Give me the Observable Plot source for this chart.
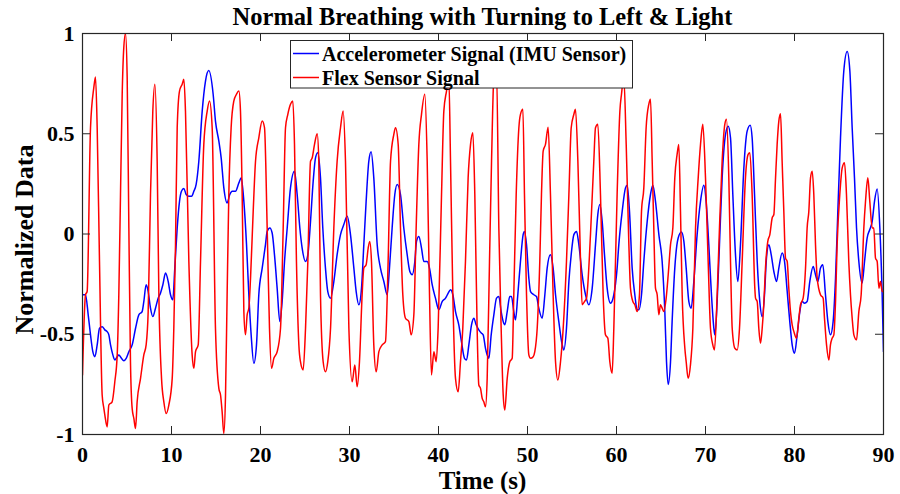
<!DOCTYPE html>
<html>
<head>
<meta charset="utf-8">
<script src="https://cdn.jsdelivr.net/npm/d3@7"></script>
<script src="https://cdn.jsdelivr.net/npm/@observablehq/plot@0.6"></script>
<style>
  html, body { margin: 0; padding: 0; background: white; }
  #chart { width: 900px; height: 494px; }
</style>
</head>
<body>
<div id="chart"></div>
<script>
// ---- Data ----
const accelTime = [
  0,0.34,0.64,0.90,1.16,1.39,1.65,1.91,2.21,2.51,2.77,2.96,3.15,3.41,3.63,3.90,4.08,4.38,4.64,4.91,5.21,5.58,5.96,6.33,6.70,6.89,7.15,7.38,7.64,7.90,8.20,8.50,8.76,9.03,9.33,9.63,9.89,10.15,10.37,10.64,10.90,11.12,11.39,11.65,11.95,12.25,12.51,12.77,13.07,13.45,13.82,14.19,
  14.68,14.94,15.32,15.58,15.88,16.25,16.55,16.82,17.19,17.57,17.83,18.13,18.43,18.69,18.95,19.25,19.55,19.81,20.19,20.56,20.75,21.05,21.31,21.57,21.87,22.17,22.43,22.70,23.00,23.37,23.82,24.12,24.42,24.68,25.06,25.32,25.62,25.92,26.18,26.44,26.74,27.00,27.30,27.56,27.87,28.24,28.61,28.99,29.36,29.74,
  30.11,30.49,30.75,31.05,31.35,31.61,31.87,32.17,32.43,32.73,33.11,33.48,33.86,34.23,34.49,34.79,35.09,35.36,35.73,36.10,36.48,36.78,37.04,37.34,37.53,37.79,38.09,38.35,38.73,38.99,39.29,39.66,40.04,40.41,40.79,41.09,41.35,41.61,41.91,42.28,42.58,42.92,43.15,43.41,43.71,43.97,44.23,44.53,44.83,
  45.02,45.28,45.47,45.66,45.92,46.22,46.52,46.78,47.04,47.27,47.45,47.72,48.01,48.20,48.46,48.65,48.91,49.21,49.51,49.66,49.89,50.15,50.34,50.71,51.01,51.27,51.65,51.95,52.21,52.58,52.88,53.15,53.52,53.90,54.08,54.38,54.65,54.91,55.21,55.51,55.77,56.14,56.52,56.89,57.27,57.64,57.90,58.13,58.39,58.65,58.95,59.33,59.70,60.07,
  60.26,60.64,61.01,61.20,61.46,61.76,62.06,62.32,62.51,62.81,63.07,63.45,63.82,64.08,64.38,64.76,65.13,65.43,65.62,65.81,66.07,66.25,66.55,66.93,67.30,67.57,67.83,68.13,68.39,68.69,69.06,69.44,69.81,70.07,70.37,70.67,70.94,71.05,71.31,71.57,71.87,72.25,72.55,72.81,73.07,73.37,73.63,73.93,74.31,74.68,75.02,75.24,
  75.51,75.81,76.10,76.37,76.63,76.85,77.12,77.38,77.68,77.98,78.24,78.61,78.88,79.18,79.47,79.74,80.00,80.30,80.60,80.86,81.12,81.42,81.72,82.10,82.36,82.62,82.92,83.18,83.48,83.75,84.04,84.34,84.61,84.87,85.17,85.54,85.92,86.22,86.48,86.74,86.97,87.23,87.60,87.87,88.16,88.46,88.73,88.99,89.29,89.59,89.85,90.0
];
const accelValue = [
  -0.303,-0.303,-0.403,-0.503,-0.587,-0.612,-0.553,-0.47,-0.462,-0.478,-0.487,-0.503,-0.553,-0.603,-0.628,-0.612,-0.603,-0.62,-0.632,-0.62,-0.587,-0.553,-0.47,-0.403,-0.387,-0.337,-0.253,-0.287,-0.37,-0.412,-0.37,-0.32,-0.295,-0.253,-0.195,-0.237,-0.303,-0.328,-0.17,0.03,0.163,0.213,0.227,0.197,0.188,0.188,0.213,0.247,0.363,0.613,0.763,0.815,
  0.697,0.563,0.463,0.38,0.23,0.155,0.197,0.213,0.213,0.255,0.28,0.163,-0.053,-0.303,-0.503,-0.645,-0.553,-0.303,-0.17,-0.053,0.013,0.03,0.005,-0.103,-0.27,-0.437,-0.337,-0.137,0.03,0.23,0.313,0.197,0.03,-0.07,-0.137,-0.103,0.063,0.263,0.38,0.405,0.28,0.03,-0.17,-0.287,-0.32,-0.237,-0.103,-0.003,0.047,0.088,
  -0.003,-0.17,-0.287,-0.353,-0.27,-0.053,0.163,0.363,0.41,0.28,-0.053,-0.17,-0.237,-0.303,-0.17,0.03,0.197,0.247,0.197,0.03,-0.103,-0.187,-0.203,-0.137,-0.037,-0.012,-0.07,-0.137,-0.137,-0.17,-0.253,-0.32,-0.378,-0.337,-0.32,-0.295,-0.278,-0.303,-0.387,-0.453,-0.537,-0.62,-0.628,-0.553,-0.453,-0.42,-0.453,-0.478,-0.495,
  -0.503,-0.57,-0.603,-0.62,-0.503,-0.403,-0.32,-0.312,-0.387,-0.437,-0.453,-0.387,-0.312,-0.312,-0.387,-0.428,-0.303,-0.137,-0.003,0.013,-0.053,-0.22,-0.287,-0.303,-0.312,-0.37,-0.42,-0.303,-0.17,-0.103,-0.17,-0.303,-0.437,-0.553,-0.578,-0.47,-0.237,-0.103,-0.003,0.013,-0.053,-0.203,-0.303,-0.353,-0.27,-0.053,0.097,0.147,0.063,-0.103,-0.27,-0.345,-0.303,-0.17,
  -0.053,0.113,0.23,0.243,0.113,-0.17,-0.303,-0.378,-0.378,-0.303,-0.137,0.063,0.197,0.243,0.163,-0.003,-0.137,-0.387,-0.637,-0.75,-0.637,-0.437,-0.17,-0.02,0.01,-0.037,-0.17,-0.337,-0.37,-0.237,-0.003,0.163,0.243,0.163,-0.053,-0.303,-0.47,-0.503,-0.337,-0.053,0.28,0.497,0.538,0.48,0.197,-0.103,-0.237,-0.053,0.33,0.513,0.543,0.48,
  0.197,-0.137,-0.337,-0.412,-0.303,-0.12,-0.053,-0.103,-0.187,-0.237,-0.17,-0.095,-0.137,-0.287,-0.437,-0.553,-0.595,-0.503,-0.387,-0.337,-0.345,-0.337,-0.237,-0.162,-0.203,-0.237,-0.17,-0.153,-0.303,-0.437,-0.503,-0.437,-0.22,0.113,0.48,0.813,0.91,0.813,0.53,0.28,0.03,-0.137,-0.245,-0.137,-0.02,0.022,0.063,0.163,0.225,0.03,-0.303,-0.587
];

const flexTime = [
  0,0.34,0.52,0.90,1.27,1.46,1.65,1.91,2.21,2.40,2.51,2.77,2.96,3.33,3.63,3.90,4.08,4.27,4.46,4.64,4.83,5.02,5.21,5.39,5.58,5.77,5.96,6.14,6.52,6.89,7.15,7.38,7.64,7.90,8.13,8.39,8.58,8.88,9.14,9.40,9.70,10.08,10.26,10.45,10.64,10.90,11.20,11.39,11.57,11.95,12.32,12.51,12.70,13.00,13.26,13.63,14.01,14.27,14.57,
  14.94,15.32,15.51,15.69,15.88,16.07,16.25,16.44,16.70,17.00,17.30,17.57,17.75,17.94,18.13,18.31,18.50,18.69,18.88,19.18,19.44,19.81,20.19,20.45,20.75,21.01,21.24,21.50,21.87,22.25,22.55,22.81,23.07,23.37,23.63,23.82,24.04,24.31,24.49,24.79,25.06,25.32,25.62,25.81,26.07,26.37,26.55,26.74,27.04,27.30,27.56,27.87,28.24,28.61,28.99,29.29,29.55,
  29.93,30.30,30.60,30.86,31.12,31.42,31.61,31.87,32.10,32.28,32.47,32.73,33.00,33.30,33.67,34.04,34.34,34.61,34.98,35.17,35.47,35.73,35.99,36.29,36.67,36.93,37.23,37.49,37.79,38.09,38.46,38.73,38.99,39.21,39.48,39.74,39.96,40.34,40.60,40.90,41.16,41.35,41.61,41.91,42.21,42.47,42.73,43.03,43.33,43.60,43.86,44.08,44.34,44.53,44.72,44.91,
  45.09,45.28,45.47,45.73,45.96,46.22,46.52,46.78,47.04,47.27,47.45,47.72,48.01,48.28,48.46,48.73,49.03,49.21,49.48,49.66,49.89,50.15,50.34,50.64,50.82,51.09,51.38,51.57,51.76,52.02,52.32,52.58,52.88,53.15,53.41,53.71,54.01,54.38,54.65,54.91,55.21,55.39,55.66,55.96,56.14,56.40,56.63,57.08,57.45,57.64,57.90,58.20,58.50,58.76,59.03,59.25,59.51,59.70,60.07,60.38,
  60.56,60.82,61.09,61.39,61.57,61.84,62.06,62.32,62.58,62.81,63.07,63.33,63.63,63.82,64.01,64.19,64.38,64.57,64.76,64.94,65.13,65.32,65.58,65.81,66.07,66.33,66.55,66.81,67.00,67.19,67.38,67.68,67.83,68.05,68.31,68.58,68.88,69.18,69.44,69.70,70.00,70.30,70.56,70.82,71.01,71.31,71.57,71.87,72.17,72.36,72.62,72.81,73.00,73.30,73.56,73.82,74.12,74.49,74.79,74.98,75.24,75.54,
  75.62,75.81,75.99,76.18,76.37,76.55,76.74,77.00,77.23,77.49,77.68,77.87,78.05,78.24,78.43,78.61,78.80,78.99,79.18,79.36,79.55,79.74,79.93,80.22,80.49,80.67,80.97,81.24,81.42,81.61,81.80,81.99,82.17,82.36,82.55,82.92,83.22,83.37,83.60,83.86,84.04,84.23,84.42,84.61,84.79,85.09,85.36,85.62,85.84,86.10,86.29,86.48,86.67,86.97,87.23,87.49,87.79,87.98,88.24,88.46,88.73,88.91,89.10,89.29,89.48,89.66,89.85,90.0
];
const flexValue = [
  -0.703,-0.303,-0.287,0.53,0.73,0.783,0.53,-0.137,-0.803,-0.87,-0.903,-0.962,-0.853,-0.837,-0.737,-0.603,-0.303,0.197,0.697,0.93,1.0,0.78,0.03,-0.637,-0.87,-0.92,-0.97,-0.837,-0.72,-0.603,-0.553,-0.387,0.197,0.613,0.747,0.363,-0.303,-0.72,-0.837,-0.895,-0.853,-0.72,-0.47,-0.053,0.53,0.713,0.747,0.772,0.613,-0.137,-0.603,-0.67,-0.587,-0.553,-0.137,0.447,0.613,0.663,0.53,
  -0.47,-0.77,-0.803,-0.887,-0.995,-0.803,-0.303,0.197,0.53,0.663,0.697,0.713,0.613,0.197,-0.387,-0.503,-0.403,-0.37,-0.22,0.113,0.363,0.48,0.563,0.53,0.03,-0.47,-0.67,-0.62,-0.587,-0.47,0.03,0.53,0.597,0.647,0.663,0.447,-0.137,-0.553,-0.637,-0.678,-0.47,-0.137,0.363,0.38,0.447,0.5,0.363,-0.303,-0.637,-0.687,-0.637,-0.47,0.03,0.363,0.53,0.613,0.363,
  -0.47,-0.737,-0.653,-0.762,-0.637,-0.303,-0.17,-0.153,-0.07,-0.037,-0.137,-0.553,-0.687,-0.587,-0.553,-0.537,-0.137,0.363,0.497,0.53,0.447,0.03,-0.303,-0.42,-0.437,-0.503,-0.403,0.03,0.447,0.597,0.697,0.363,-0.303,-0.703,-0.587,-0.637,-0.47,0.197,0.613,0.713,0.78,0.363,-0.303,-0.72,-0.787,-0.637,-0.47,-0.137,0.28,0.447,0.505,0.197,-0.47,-0.753,-0.77,-0.82,
  -0.837,-0.862,-0.72,-0.137,0.363,0.78,0.82,0.03,-0.47,-0.803,-0.878,-0.72,-0.637,-0.62,-0.303,0.197,0.53,0.597,0.622,0.197,-0.303,-0.603,-0.62,-0.612,-0.587,-0.47,-0.137,0.197,0.413,0.447,0.533,0.197,-0.303,-0.637,-0.728,-0.637,-0.47,-0.137,0.197,0.53,0.597,0.622,0.363,-0.137,-0.353,-0.337,-0.32,0.0,0.363,0.53,0.547,0.197,-0.303,-0.503,-0.52,-0.637,-0.695,-0.47,0.197,0.613,
  0.697,0.78,0.447,-0.053,-0.27,-0.337,-0.353,-0.387,-0.303,0.113,0.23,0.53,0.647,0.672,0.363,0.03,-0.27,-0.303,-0.403,-0.353,-0.37,-0.387,-0.32,-0.203,-0.053,0.03,0.28,0.397,0.447,0.113,-0.303,-0.57,-0.637,-0.72,-0.653,-0.47,0.03,0.28,0.447,0.547,0.28,-0.137,-0.47,-0.553,-0.578,-0.303,0.03,0.363,0.547,0.572,0.28,-0.137,-0.47,-0.57,-0.578,-0.47,-0.137,0.28,0.397,0.405,0.197,-0.27,
  -0.32,-0.337,-0.47,-0.545,-0.47,-0.353,-0.17,-0.037,-0.003,0.08,0.097,0.28,0.447,0.563,0.6,0.363,0.113,-0.12,-0.137,-0.27,-0.387,-0.453,-0.487,-0.52,-0.42,-0.353,-0.32,-0.17,0.03,0.113,0.28,0.313,0.197,-0.053,-0.22,-0.303,-0.32,-0.42,-0.553,-0.628,-0.553,-0.52,-0.503,-0.337,-0.053,0.197,0.33,0.355,0.197,-0.137,-0.303,-0.42,-0.503,-0.528,-0.387,-0.303,0.03,0.163,0.28,0.163,0.03,0.03,-0.12,-0.137,-0.27,-0.237,-0.287,-0.287
];

const xTicks = [0, 10, 20, 30, 40, 50, 60, 70, 80, 90];
const yTicks = [-1, -0.5, 0, 0.5, 1];
const yTickLabels = ["-1", "-0.5", "0", "0.5", "1"];
const seriesNames = ["Accelerometer Signal (IMU Sensor)", "Flex Sensor Signal"];
const seriesColors = ["#0000ff", "#ff0000"];
const titleText = "Normal Breathing with Turning to Left & Light";
const xLabel = "Time (s)";
const yLabel = "Normalized Data";

// ---- Build tables ----
const accel = accelTime.map((t, i) => ({t, v: accelValue[i]}));
const flex = flexTime.map((t, i) => ({t, v: flexValue[i]}));

const W = 900, H = 494, mt = 33, mb = 60, ml = 82, mr = 17;
const innerW = W - ml - mr, innerH = H - mt - mb;
const FONT = "'Liberation Serif', 'Times New Roman', Times, serif";

const chart = Plot.plot({
  width: W, height: H,
  marginTop: mt, marginBottom: mb, marginLeft: ml, marginRight: mr,
  x: {domain: [0, 90]},
  y: {domain: [-1, 1]},
  style: {fontFamily: FONT, fontWeight: "bold", fontSize: "22px", color: "black", background: "white", overflow: "visible"},
  marks: [
    Plot.lineY(accel, {x: "t", y: "v", stroke: seriesColors[0], strokeWidth: 1.5, curve: "monotone-x", clip: true}),
    Plot.lineY(flex, {x: "t", y: "v", stroke: seriesColors[1], strokeWidth: 1.5, curve: "monotone-x", clip: true}),
    // inward ticks (MATLAB style) on all four sides
    Plot.ruleX(xTicks, {x: d => d, insetTop: innerH - 8, stroke: "#262626"}),
    Plot.ruleX(xTicks, {x: d => d, insetBottom: innerH - 8, stroke: "#262626"}),
    Plot.ruleY(yTicks, {y: d => d, insetRight: innerW - 8, stroke: "#262626"}),
    Plot.ruleY(yTicks, {y: d => d, insetLeft: innerW - 8, stroke: "#262626"}),
    Plot.frame({stroke: "#262626", strokeWidth: 1.2}),
    Plot.axisX({ticks: xTicks, tickSize: 0, tickPadding: 12, label: null, tickFormat: d => String(d)}),
    Plot.axisY({ticks: yTicks, tickSize: 0, tickPadding: 8, label: null, tickFormat: d => yTickLabels[yTicks.indexOf(d)]})
  ]
});

document.getElementById("chart").appendChild(chart);

// ---- Titles & legend ----
const svg = d3.select(chart);
const cx = ml + innerW / 2;

svg.append("text")
  .attr("x", cx).attr("y", 25)
  .attr("text-anchor", "middle")
  .style("font-family", FONT).style("font-weight", "bold").style("font-size", "24.5px")
  .attr("fill", "black")
  .text(titleText);

svg.append("text")
  .attr("x", cx).attr("y", 489)
  .attr("text-anchor", "middle")
  .style("font-family", FONT).style("font-weight", "bold").style("font-size", "25px")
  .attr("fill", "black")
  .text(xLabel);

svg.append("text")
  .attr("transform", `translate(33,${mt + innerH / 2 + 6}) rotate(-90)`)
  .attr("text-anchor", "middle")
  .style("font-family", FONT).style("font-weight", "bold").style("font-size", "26px")
  .attr("fill", "black")
  .text(yLabel);

const lg = svg.append("g");
lg.append("rect")
  .attr("x", 290.5).attr("y", 40.5).attr("width", 342).attr("height", 47.5)
  .attr("fill", "white").attr("stroke", "#262626").attr("stroke-width", 1);
seriesNames.forEach((name, i) => {
  const yy = 53.5 + i * 24;
  lg.append("line")
    .attr("x1", 293).attr("x2", 319).attr("y1", yy).attr("y2", yy)
    .attr("stroke", seriesColors[i]).attr("stroke-width", 1.5);
  lg.append("text")
    .attr("x", 322).attr("y", yy + 7.5)
    .attr("text-anchor", "start")
    .style("font-family", FONT).style("font-weight", "bold").style("font-size", "20px")
    .attr("fill", "black")
    .text(name);
});
</script>
</body>
</html>
